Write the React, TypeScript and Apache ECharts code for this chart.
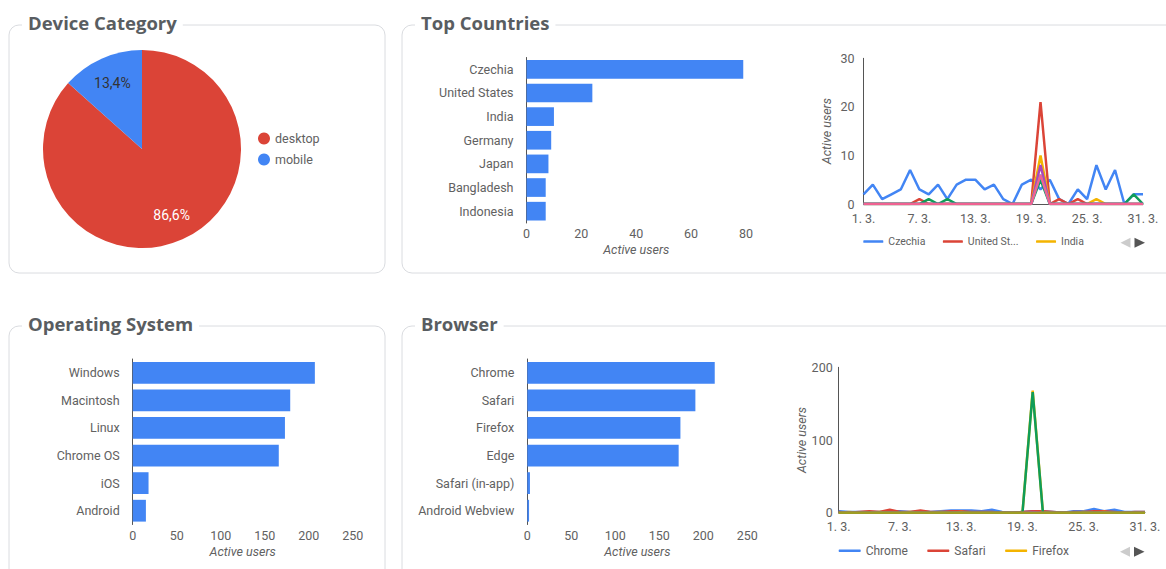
import React, { useEffect, useRef } from "react";
import * as echarts from "echarts";

const deviceNames = ["desktop", "mobile"];
const deviceValues = [86.6, 13.4];
const deviceColors = ["#DB4437", "#4285F4"];

const countryNames = ["Czechia", "United States", "India", "Germany", "Japan", "Bangladesh", "Indonesia"];
const countryUsers = [79, 24, 10, 9, 8, 7, 7];

const osNames = ["Windows", "Macintosh", "Linux", "Chrome OS", "iOS", "Android"];
const osUsers = [207, 179, 173, 166, 18, 15];

const browserNames = ["Chrome", "Safari", "Firefox", "Edge", "Safari (in-app)", "Android Webview"];
const browserUsers = [213, 191, 174, 172, 3, 2];

const days = [
  "1. 3.", "2. 3.", "3. 3.", "4. 3.", "5. 3.", "6. 3.", "7. 3.", "8. 3.", "9. 3.", "10. 3.",
  "11. 3.", "12. 3.", "13. 3.", "14. 3.", "15. 3.", "16. 3.", "17. 3.", "18. 3.", "19. 3.", "20. 3.",
  "21. 3.", "22. 3.", "23. 3.", "24. 3.", "25. 3.", "26. 3.", "27. 3.", "28. 3.", "29. 3.", "30. 3.", "31. 3.",
];

// Daily active users per country
const czechiaDaily = [2, 4, 1, 2, 3, 7, 3, 2, 4, 1, 4, 5, 5, 3, 4, 1, 0, 4, 5, 3, 5, 1, 0, 3, 1, 8, 3, 7, 0, 2, 2];
const usDaily = [0, 0, 0, 0, 0, 0, 1, 0, 0, 0, 0, 0, 0, 0, 0, 0, 0, 0, 0, 21, 0, 1, 0, 1, 0, 0, 0, 0, 0, 0, 0];
const indiaDaily = [0, 0, 0, 0, 0, 0, 0, 0, 0, 0, 0, 0, 0, 0, 0, 0, 0, 0, 0, 10, 0, 0, 0, 0, 0, 1, 0, 0, 0, 0, 0];
const germanyDaily = [0, 0, 0, 0, 0, 0, 0, 1, 0, 1, 0, 0, 0, 0, 0, 0, 0, 0, 0, 5, 0, 0, 0, 0, 0, 0, 0, 0, 0, 2, 0];
const japanDaily = [0, 0, 0, 0, 0, 0, 0, 0, 0, 0, 0, 0, 0, 0, 0, 0, 0, 0, 0, 8, 0, 0, 0, 0, 0, 0, 0, 0, 0, 0, 0];
const bangladeshDaily = [0, 0, 0, 0, 0, 0, 0, 0, 0, 0, 0, 0, 0, 0, 0, 0, 0, 0, 0, 6, 0, 0, 0, 0, 0, 0, 0, 0, 0, 0, 0];
const indonesiaDaily = [0, 0, 0, 0, 0, 0, 0, 0, 0, 0, 0, 0, 0, 0, 0, 0, 0, 0, 0, 6, 0, 0, 0, 0, 0, 0, 0, 0, 0, 0, 0];
const countryDaily = [czechiaDaily, usDaily, indiaDaily, germanyDaily, japanDaily, bangladeshDaily, indonesiaDaily];
const countryColors = ["#4285F4", "#DB4437", "#F4B400", "#0F9D58", "#AB47BC", "#00ACC1", "#F06292"];

// Daily active users per browser
const chromeDaily = [2, 1, 1, 1, 1, 2, 2, 1, 2, 1, 2, 3, 3, 3, 2, 4, 1, 0, 1, 2, 2, 1, 0, 2, 2, 5, 2, 4, 1, 1, 1];
const safariDaily = [1, 0, 1, 2, 1, 4, 1, 1, 3, 1, 1, 2, 2, 1, 1, 1, 0, 0, 1, 2, 2, 1, 0, 1, 1, 2, 2, 1, 0, 1, 1];
const firefoxDaily = [0, 1, 0, 0, 1, 0, 0, 1, 0, 0, 1, 0, 1, 0, 0, 0, 0, 0, 0, 168, 1, 0, 0, 0, 1, 0, 1, 0, 0, 0, 0];
const edgeDaily = [0, 0, 0, 0, 0, 0, 0, 0, 0, 0, 0, 0, 0, 0, 0, 0, 0, 0, 0, 166, 0, 0, 0, 0, 0, 0, 0, 0, 0, 0, 0];
const safariInAppDaily = [0, 0, 0, 0, 0, 0, 0, 0, 0, 0, 0, 0, 0, 0, 0, 0, 0, 0, 0, 1, 0, 0, 0, 0, 0, 0, 0, 0, 0, 0, 0];
const webviewDaily = [0, 0, 0, 0, 0, 0, 0, 0, 0, 0, 0, 0, 0, 0, 0, 0, 0, 0, 0, 0, 0, 0, 0, 0, 0, 0, 0, 0, 0, 0, 0];
const browserDaily = [chromeDaily, safariDaily, firefoxDaily, edgeDaily, safariInAppDaily, webviewDaily];
const browserColors = ["#4285F4", "#DB4437", "#F4B400", "#0F9D58", "#AB47BC", "#9E9D24"];

const FONT = "Roboto, sans-serif";
const TITLE_FONT = "'Open Sans', Roboto, sans-serif";
const GRAY = "#616161";
const AXIS = "#555555";
const BAR = "#4285F4";

const panel = (x: number, y: number, w: number, h: number, title: string) => [
  {
    type: "rect",
    shape: { x, y, width: w, height: h, r: 10 },
    style: { fill: "none", stroke: "#dadce0", lineWidth: 1 },
    silent: true,
    z: 0,
  },
  {
    type: "text",
    x: x + 13,
    y: y - 3,
    style: {
      text: title,
      fontFamily: TITLE_FONT,
      fontSize: 18.5,
      fontWeight: "bold",
      fill: "#595d61",
      backgroundColor: "#ffffff",
      padding: [2, 6, 2, 6],
      verticalAlign: "middle",
      align: "left",
    },
    silent: true,
    z: 1,
  },
];

const pager = (xRight: number, cy: number) => [
  {
    type: "polygon",
    shape: { points: [[xRight - 14.5, cy - 5], [xRight - 14.5, cy + 5], [xRight - 24.5, cy]] },
    style: { fill: "#cccccc" },
    silent: true,
  },
  {
    type: "polygon",
    shape: { points: [[xRight - 10.5, cy - 5], [xRight - 10.5, cy + 5], [xRight, cy]] },
    style: { fill: "#555555" },
    silent: true,
  },
];

const barPair = (gi: number, names: string[], max: number, interval: number) => ({
  y: {
    type: "category",
    gridIndex: gi,
    data: names,
    inverse: true,
    axisLine: { show: true, lineStyle: { color: AXIS, width: 1 } },
    axisTick: { show: false },
    axisLabel: { color: GRAY, fontSize: 12.5, fontFamily: FONT, margin: 13 },
  },
  x: {
    type: "value",
    gridIndex: gi,
    min: 0,
    max,
    interval,
    axisLine: { show: false },
    axisTick: { show: false },
    splitLine: { show: false },
    axisLabel: { color: GRAY, fontSize: 12.5, fontFamily: FONT, margin: 4 },
    name: "Active users",
    nameLocation: "middle",
    nameGap: 20,
    nameTextStyle: { color: GRAY, fontSize: 12.5, fontFamily: FONT, fontStyle: "italic" },
  },
});

export default function App() {
  const ref = useRef<HTMLDivElement>(null);
  useEffect(() => {
    if (!ref.current) return;
    const chart = echarts.init(ref.current, undefined, { renderer: "svg" });

    const bc = barPair(0, countryNames, 80, 20);
    const bo = barPair(2, osNames, 250, 50);
    const bb = barPair(3, browserNames, 250, 50);

    const lineX = (gi: number, margin: number) => ({
      type: "category",
      gridIndex: gi,
      data: days,
      boundaryGap: false,
      axisLine: { show: true, lineStyle: { color: AXIS, width: 1 } },
      axisTick: { show: false },
      axisLabel: { color: GRAY, fontSize: 12.5, fontFamily: FONT, interval: 5, margin },
      splitLine: { show: false },
    });
    const lineY = (gi: number, max: number, interval: number, margin: number, nameGap: number) => ({
      type: "value",
      gridIndex: gi,
      min: 0,
      max,
      interval,
      axisLine: { show: true, lineStyle: { color: AXIS, width: 1 } },
      axisTick: { show: false },
      splitLine: { show: false },
      axisLabel: { color: GRAY, fontSize: 12.5, fontFamily: FONT, margin },
      name: "Active users",
      nameLocation: "middle",
      nameGap,
      nameTextStyle: { color: GRAY, fontSize: 12.5, fontFamily: FONT, fontStyle: "italic" },
    });

    const lineLegend = (left: number, top: number, names: string[], iconW: number, gap: number, fs: number, truncW: number) => ({
      type: "plain",
      orient: "horizontal",
      left,
      top,
      data: names,
      icon: "roundRect",
      itemWidth: iconW,
      itemHeight: 2.5,
      itemGap: gap,
      padding: 0,
      selectedMode: false,
      textStyle: { color: GRAY, fontSize: fs, fontFamily: FONT, width: truncW, overflow: "truncate", ellipsis: "..." },
    });

    const series: any[] = [
      {
        type: "pie",
        center: [142, 149],
        radius: 99,
        startAngle: 90,
        clockwise: true,
        silent: true,
        label: { show: false },
        labelLine: { show: false },
        data: deviceNames.map((n, i) => ({ name: n, value: deviceValues[i], itemStyle: { color: deviceColors[i] } })),
      },
      {
        type: "pie",
        center: [142, 149],
        radius: [40, 99],
        startAngle: 90,
        clockwise: true,
        silent: true,
        z: 3,
        itemStyle: { color: "rgba(0,0,0,0)" },
        labelLine: { show: false },
        label: {
          show: true,
          position: "inside",
          fontSize: 14,
          fontFamily: FONT,
          formatter: (p: any) => p.percent.toFixed(1).replace(".", ",") + "%",
        },
        data: deviceNames.map((n, i) => ({
          name: n,
          value: deviceValues[i],
          itemStyle: { color: "rgba(0,0,0,0)" },
          label: { color: i === 0 ? "#ffffff" : "#333333" },
        })),
      },
      { type: "bar", xAxisIndex: 0, yAxisIndex: 0, data: countryUsers, itemStyle: { color: BAR }, barCategoryGap: "21%", silent: true },
      { type: "bar", xAxisIndex: 2, yAxisIndex: 2, data: osUsers, itemStyle: { color: BAR }, barCategoryGap: "21%", silent: true },
      { type: "bar", xAxisIndex: 3, yAxisIndex: 3, data: browserUsers, itemStyle: { color: BAR }, barCategoryGap: "21%", silent: true },
    ];

    countryNames.forEach((n, i) => {
      series.push({
        type: "line",
        name: n,
        xAxisIndex: 1,
        yAxisIndex: 1,
        data: countryDaily[i],
        color: countryColors[i],
        showSymbol: false,
        lineStyle: { width: 2.5, color: countryColors[i] },
        silent: true,
      });
    });
    browserNames.forEach((n, i) => {
      series.push({
        type: "line",
        name: n,
        xAxisIndex: 4,
        yAxisIndex: 4,
        data: browserDaily[i],
        color: browserColors[i],
        showSymbol: false,
        lineStyle: { width: 2.5, color: browserColors[i] },
        silent: true,
      });
    });

    chart.setOption({
      animation: false,
      backgroundColor: "#ffffff",
      textStyle: { fontFamily: FONT },
      grid: [
        { left: 526.5, top: 57.5, width: 219.5, height: 165.5 },
        { left: 863.5, top: 58.3, width: 279.5, height: 145.7 },
        { left: 132.7, top: 359, width: 220, height: 165.5 },
        { left: 527.3, top: 359, width: 220, height: 165.5 },
        { left: 838.7, top: 367.3, width: 306.3, height: 145.4 },
      ],
      xAxis: [bc.x, lineX(1, 8), bo.x, bb.x, lineX(4, 7.5)],
      yAxis: [bc.y, lineY(1, 30, 10, 9, 31), bo.y, bb.y, lineY(4, 200, 100, 6, 22)],
      legend: [
        {
          orient: "vertical",
          left: 258,
          top: 132,
          data: deviceNames,
          icon: "circle",
          itemWidth: 12,
          itemHeight: 12,
          itemGap: 8,
          padding: 0,
          selectedMode: false,
          textStyle: { color: GRAY, fontSize: 12.5, fontFamily: FONT },
        },
        lineLegend(863.3, 236, countryNames.slice(0, 3), 20, 17.5, 10.5, 54),
        lineLegend(838.7, 544.7, browserNames.slice(0, 3), 22, 19.5, 12, 80),
      ],
      graphic: [
        ...panel(9, 25, 376, 248, "Device Category"),
        ...panel(402, 25, 800, 248, "Top Countries"),
        ...panel(9, 326, 376, 300, "Operating System"),
        ...panel(402, 326, 800, 300, "Browser"),
        ...pager(1145, 242.7),
        ...pager(1144.5, 551.7),
      ],
      series,
    });

    return () => chart.dispose();
  }, []);

  return (
    <div
      ref={ref}
      style={{ position: "fixed", left: 0, top: 0, width: 1166, height: 569, background: "#ffffff" }}
    />
  );
}
